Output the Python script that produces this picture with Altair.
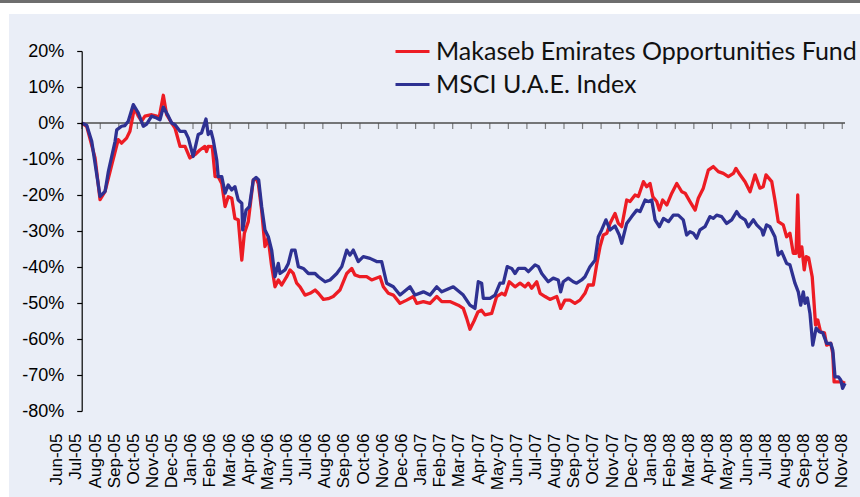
import json
import altair as alt
import pandas as pd

# ---------------- data ----------------
month_labels = [
    "Jun-05", "Jul-05", "Aug-05", "Sep-05", "Oct-05", "Nov-05", "Dec-05",
    "Jan-06", "Feb-06", "Mar-06", "Apr-06", "May-06", "Jun-06", "Jul-06",
    "Aug-06", "Sep-06", "Oct-06", "Nov-06", "Dec-06", "Jan-07", "Feb-07",
    "Mar-07", "Apr-07", "May-07", "Jun-07", "Jul-07", "Aug-07", "Sep-07",
    "Oct-07", "Nov-07", "Dec-07", "Jan-08", "Feb-08", "Mar-08", "Apr-08",
    "May-08", "Jun-08", "Jul-08", "Aug-08", "Sep-08", "Oct-08", "Nov-08",
]
y_ticks = [-80, -70, -60, -50, -40, -30, -20, -10, 0, 10, 20]

fund_name = "Makaseb Emirates Opportunities Fund"
index_name = "MSCI U.A.E. Index"

# months elapsed since 1 Jun 2005, cumulative return in %
fund_month = [
    0, 0.27, 0.72, 0.99, 1.26, 1.62, 1.97, 2.15, 2.42, 2.60, 2.84, 3.05, 3.23, 3.41,
    3.77, 4.04, 4.17, 4.40, 4.58, 4.85, 5.03, 5.30, 5.57, 5.83, 6.10, 6.37, 6.64,
    6.73, 6.82, 7.04, 7.19, 7.36, 7.55, 7.73, 7.90, 8.09, 8.26, 8.44, 8.63, 8.77,
    8.98, 9.25, 9.40, 9.52, 9.70, 9.88, 10.05, 10.23, 10.42, 10.60, 10.78, 11.05,
    11.23, 11.41, 11.59, 11.77, 12.04, 12.31, 12.58, 12.76, 13.03, 13.29, 13.56,
    13.92, 14.29, 14.56, 14.73, 15.00, 15.36, 15.63, 16.08, 16.26, 16.53, 16.80,
    17.16, 17.52, 17.88, 18.06, 18.42, 18.78, 19.14, 19.41, 19.85, 20.30, 20.57,
    20.75, 20.93, 21.15, 21.36, 21.55, 21.74, 22.10, 22.37, 22.64, 22.82, 23.05,
    23.36, 23.63, 23.90, 24.08, 24.26, 24.53, 24.71, 24.98, 25.24, 25.61, 25.82,
    26.05, 26.32, 26.59, 26.86, 27.13, 27.31, 27.58, 27.76, 27.94, 28.12, 28.31,
    28.48, 28.75, 28.93, 29.11, 29.38, 29.56, 29.83, 30.01, 30.28, 30.46, 30.64,
    30.79, 31.00, 31.14, 31.32, 31.54, 31.81, 32.08, 32.35, 32.53, 32.80, 33.07,
    33.24, 33.51, 33.78, 34.05, 34.32, 34.59, 34.86, 35.13, 35.27, 35.49, 35.76,
    36.03, 36.30, 36.56, 36.74, 36.89, 37.20, 37.37, 37.55, 37.82, 38.00, 38.18,
    38.36, 38.51, 38.60, 38.69, 38.82, 38.95, 39.06, 39.19, 39.38, 39.47, 39.56,
    39.68, 39.83, 40.04, 40.16, 40.38, 40.49, 40.56, 40.79, 40.97, 41.15,
]
fund_pct = [
    0, -0.9, -9.7, -21.3, -19.0, -11.6, -4.6, -5.6, -4.2, -2.3, 4.2, 1.9, 0.5, 1.9,
    2.3, 1.9, 1.4, 7.7, 2.3, 0.0, -1.4, -6.5, -6.5, -9.7, -8.8, -7.5, -6.5,
    -7.9, -6.5, -6.6, -14.9, -14.9, -16.8, -23.2, -20.5, -20.9, -26.5, -26.9, -38.1, -30.6,
    -27.4, -15.8, -15.4, -16.8, -24.2, -34.3, -31.9, -39.4, -45.5, -43.6, -45.0, -42.7,
    -40.8, -41.8, -44.5, -45.5, -47.8, -47.3, -46.4, -47.3, -49.0, -48.8, -48.2,
    -46.4, -41.8, -40.4, -42.2, -42.7, -42.7, -43.6, -42.7, -45.5, -47.3, -47.8,
    -50.1, -49.2, -48.2, -50.1, -49.6, -50.1, -48.2, -49.6, -49.6, -50.6, -51.5,
    -54.2, -57.3, -55.0, -52.5, -52.0, -53.3, -52.9, -48.2, -47.3, -47.8, -44.1,
    -45.5, -44.5, -45.5, -44.5, -45.9, -44.1, -47.3, -48.2, -49.0, -48.2, -51.5,
    -49.2, -49.2, -50.1, -49.2, -47.3, -45.0, -45.0, -39.4, -34.4, -31.1, -30.6,
    -27.9, -25.1, -27.9, -28.8, -21.4, -21.8, -20.0, -20.4, -16.3, -17.7, -16.8,
    -20.5, -21.8, -24.2, -21.4, -22.8, -19.5, -16.8, -19.1, -19.5, -21.9, -24.2,
    -20.9, -18.1, -13.1, -12.1, -13.5, -14.0, -14.9, -14.0, -12.6, -14.4, -16.3,
    -19.1, -14.4, -18.1, -17.7, -14.4, -16.3, -21.4, -27.4, -28.3, -31.6, -30.6,
    -36.2, -36.2, -20.0, -37.1, -34.4, -40.8, -37.1, -37.5, -42.7, -49.2, -56.1,
    -54.7, -58.0, -58.3, -61.7, -61.2, -64.0, -71.9, -71.9, -71.9, -72.3,
]

index_month = [
    0, 0.27, 0.54, 0.99, 1.26, 1.44, 1.80, 1.89, 2.15, 2.33, 2.51, 2.78, 3.05, 3.32,
    3.50, 3.77, 4.04, 4.22, 4.40, 4.67, 4.85, 5.03, 5.30, 5.57, 5.75, 6.01, 6.28,
    6.46, 6.70, 6.82, 6.97, 7.09, 7.28, 7.36, 7.55, 7.73, 7.90, 8.09, 8.26, 8.44,
    8.63, 8.68, 8.86, 9.04, 9.25, 9.40, 9.54, 9.70, 9.88, 10.06, 10.24, 10.42,
    10.60, 10.69, 10.96, 11.14, 11.32, 11.50, 11.68, 11.95, 12.22, 12.58, 12.76,
    13.12, 13.39, 13.75, 14.02, 14.29, 14.46, 14.64, 14.91, 15.18, 15.54, 15.90,
    16.17, 16.44, 16.80, 17.16, 17.70, 17.97, 18.42, 18.78, 19.14, 19.41, 20.03,
    20.57, 20.93, 21.20, 21.38, 21.56, 21.65, 22.01, 22.28, 22.55, 22.73, 22.94,
    23.18, 23.36, 23.54, 23.90, 24.08, 24.44, 24.62, 24.80, 25.15, 25.42, 25.69,
    25.82, 25.96, 26.23, 26.50, 26.68, 26.95, 27.13, 27.40, 27.67, 27.85, 28.03,
    28.26, 28.48, 28.75, 28.98, 29.11, 29.38, 29.65, 29.92, 30.10, 30.37, 30.55,
    30.73, 30.91, 31.14, 31.36, 31.63, 31.89, 32.16, 32.43, 32.61, 32.79, 32.97,
    33.15, 33.33, 33.60, 33.87, 34.05, 34.23, 34.50, 34.77, 35.04, 35.31, 35.49,
    35.76, 35.94, 36.21, 36.39, 36.66, 36.74, 36.92, 37.10, 37.37, 37.55, 37.73,
    38.00, 38.18, 38.45, 38.63, 38.76, 38.90, 38.99, 39.12, 39.26, 39.41, 39.59,
    39.77, 39.95, 40.16, 40.38, 40.49, 40.61, 40.79, 40.92, 41.02, 41.15,
]
index_pct = [
    0, -0.6, -5.1, -20.4, -19.0, -13.4, -5.1, -1.9, -0.9, -0.7, 0.5, 5.1, 2.8, -0.9,
    -0.3, 1.9, 1.4, 0.9, 4.4, 1.9, 0.0, -0.5, -2.3, -2.3, -4.2, -9.3, -3.2,
    -2.8, 1.1, -3.2, -2.3, -4.7, -10.3, -14.9, -14.9, -19.5, -17.2, -18.6, -17.7, -21.4,
    -22.3, -29.7, -24.2, -23.2, -15.8, -15.1, -15.8, -23.2, -29.7, -31.6, -35.3, -42.7,
    -39.0, -41.8, -40.8, -39.0, -35.3, -35.3, -39.9, -40.4, -41.8, -41.8, -42.7,
    -44.1, -43.6, -41.8, -39.9, -35.3, -36.7, -35.3, -38.5, -37.1, -37.6, -38.5,
    -38.5, -44.5, -45.5, -47.8, -45.5, -47.8, -46.9, -47.8, -45.5, -46.9, -45.5,
    -47.8, -50.6, -51.5, -44.1, -44.5, -48.7, -48.7, -47.8, -44.5, -44.5, -39.9,
    -40.4, -41.8, -40.4, -40.4, -41.3, -39.4, -39.9, -41.8, -44.1, -43.1, -43.6,
    -46.9, -44.1, -43.1, -44.1, -44.5, -43.6, -42.7, -39.9, -38.1, -31.6, -29.7,
    -26.9, -29.7, -28.6, -31.1, -33.4, -27.9, -26.0, -24.2, -24.6, -21.4, -21.8,
    -21.4, -26.9, -28.8, -26.5, -27.4, -25.6, -25.6, -26.9, -31.1, -30.2, -30.6,
    -32.0, -29.7, -28.8, -26.0, -26.5, -25.6, -26.0, -27.9, -26.9, -24.6, -26.0,
    -26.9, -28.8, -26.9, -28.3, -29.7, -31.1, -28.3, -28.8, -31.6, -36.7, -35.7,
    -39.0, -39.4, -44.5, -46.9, -50.6, -46.9, -50.1, -48.6, -52.9, -61.7, -57.0,
    -58.0, -58.3, -61.2, -61.2, -63.1, -70.5, -70.5, -71.4, -73.7, -72.3,
]

# ---------------- tables ----------------
lines_df = pd.concat([
    pd.DataFrame({"month": fund_month, "pct": fund_pct, "series": fund_name}),
    pd.DataFrame({"month": index_month, "pct": index_pct, "series": index_name}),
], ignore_index=True)
ticks_df = pd.DataFrame({"m": list(range(len(month_labels))), "level": 0})
zero_df = pd.DataFrame({"start": [0], "end": [max(fund_month)], "level": [0]})
labels_df = pd.DataFrame({"i": list(range(len(month_labels)))})

# ---------------- layout ----------------
PAD_L, PAD_T, W, H = 50, 51, 800, 360
AX_X = 31.7          # y axis position inside plot area
STEP = 18.55         # px per month on the data axis
LAB0, LAB_STEP = 6.7, 19.15   # label positions

xs = alt.Scale(domain=[-AX_X / STEP, (W - AX_X) / STEP], nice=False, zero=False)
ys = alt.Scale(domain=[-80, 20], nice=False, zero=False)
ls = alt.Scale(domain=[-LAB0 / LAB_STEP, (W - LAB0) / LAB_STEP], nice=False, zero=False)

RED = "#ED1C24"
BLUE = "#2E3192"
AXC = "#4D4D4D"

yaxis = alt.Axis(
    values=y_ticks, labelExpr="datum.value + '%'", orient="left", offset=-AX_X,
    domainColor="#000000", domainWidth=1.2, tickColor="#000000", tickWidth=1.2,
    tickSize=5, labelFont="Arial", labelFontSize=18, labelColor="#000000",
    labelPadding=13, grid=False, title=None, zindex=2,
)

bg = alt.Chart(alt.Data(values=[{}])).mark_rect(color="#EAEEF7").encode(
    x=alt.value(-41), x2=alt.value(W + 10), y=alt.value(-37), y2=alt.value(H + 86)
)
topbar = alt.Chart(alt.Data(values=[{}])).mark_rect(color="#6E6E6E").encode(
    x=alt.value(-PAD_L), x2=alt.value(W + 10), y=alt.value(-PAD_T), y2=alt.value(-PAD_T + 3)
)

zero = alt.Chart(zero_df).mark_rule(color=AXC, strokeWidth=1.5).encode(
    x=alt.X("start:Q", scale=xs, axis=None), x2="end:Q",
    y=alt.Y("level:Q", scale=ys, axis=yaxis),
)
ticks = alt.Chart(ticks_df).mark_tick(
    color=AXC, orient="vertical", size=6, thickness=1.2, yOffset=3
).encode(
    x=alt.X("m:Q", scale=xs, axis=None),
    y=alt.Y("level:Q", scale=ys, axis=yaxis),
)
lines = alt.Chart(lines_df).mark_line(strokeWidth=3.3, strokeJoin="round").encode(
    x=alt.X("month:Q", scale=xs, axis=None),
    y=alt.Y("pct:Q", scale=ys, axis=yaxis),
    color=alt.Color(
        "series:N",
        scale=alt.Scale(domain=[fund_name, index_name], range=[RED, BLUE]),
        legend=alt.Legend(
            title=None, orient="none", legendX=344, legendY=-18, direction="vertical",
            symbolType="stroke", symbolSize=1156, symbolStrokeWidth=3,
            labelFont="Lato", labelFontSize=25, labelColor="#111111", labelLimit=0,
            labelOffset=5, rowPadding=1, padding=0,
        ),
    ),
)

label_expr = json.dumps(month_labels) + "[datum.value]"
labels = alt.Chart(labels_df).mark_point(opacity=0).encode(
    x=alt.X("i:Q", scale=ls, axis=alt.Axis(
        values=list(range(len(month_labels))), labelExpr=label_expr, labelAngle=270,
        orient="bottom", domain=False, ticks=False, tickSize=0, grid=False,
        labelPadding=22, labelFont="Arial", labelFontSize=17,
        labelColor="#000000", labelOverlap=False, labelFlush=False, labelBound=False,
        title=None, zindex=2,
    )),
)

chart = alt.layer(
    bg, topbar, alt.layer(zero, ticks, lines), labels
).resolve_scale(x="independent").properties(
    width=W, height=H,
    autosize=alt.AutoSizeParams(type="none"),
    padding={"left": PAD_L, "top": PAD_T, "right": 10, "bottom": 86},
    background="#FFFFFF",
).configure_view(stroke=None)

chart.save("out.html", embed_options={"renderer": "svg", "actions": False})
